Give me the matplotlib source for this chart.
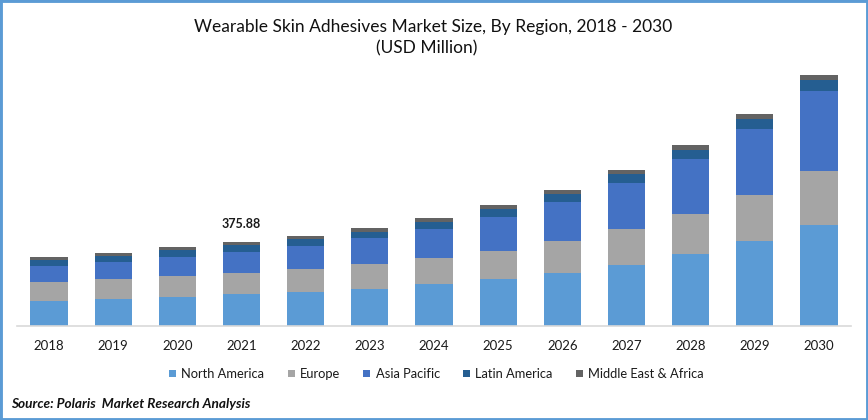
import matplotlib
matplotlib.use("Agg")
import matplotlib.pyplot as plt
from matplotlib.patches import Rectangle

plt.rcParams['font.family'] = ['Lato', 'DejaVu Sans']

years = [str(y) for y in range(2018, 2031)]
north_america = [112, 121, 130, 143, 152, 166, 188, 210, 237, 273, 322, 380, 452]
europe = [85, 90, 94, 94, 103, 112, 116, 125, 143, 161, 179, 206, 242]
asia_pacific = [72, 76, 85, 94, 103, 116, 130, 152, 175, 206, 246, 295, 358]
latin_america = [27, 27, 31, 31, 31, 27, 31, 36, 36, 40, 40, 45, 49]
mea = [13, 13, 13, 13.88, 13, 18, 18, 18, 18, 18, 22, 22, 22]

series = [
    ("North America", north_america, "#5B9BD5"),
    ("Europe", europe, "#A5A5A5"),
    ("Asia Pacific", asia_pacific, "#4472C4"),
    ("Latin America", latin_america, "#255E91"),
    ("Middle East & Africa", mea, "#636363"),
]

W, H = 868, 420
fig = plt.figure(figsize=(W / 100, H / 100), dpi=100, facecolor="white")
ax = fig.add_axes([17 / W, (H - 326) / H, (851 - 17) / W, 256 / H])

bottom = [0] * len(years)
for name, values, color in series:
    ax.bar(years, values, width=0.58, bottom=bottom, color=color, label=name, linewidth=0)
    bottom = [b + v for b, v in zip(bottom, values)]

ax.set_xlim(-0.5, len(years) - 0.5)
ax.set_ylim(0, 1145)
ax.set_yticks([])
for side in ["top", "left", "right"]:
    ax.spines[side].set_visible(False)
ax.spines["bottom"].set_color("#D9D9D9")
ax.spines["bottom"].set_linewidth(1.2)
ax.tick_params(axis="x", length=0, pad=10, labelsize=9.5, labelcolor="#1a1a1a")

ax.annotate("375.88", (3, bottom[3]), xytext=(0, 8.5), textcoords="offset points",
            ha="center", va="bottom", fontsize=9, fontweight="bold", color="#1a1a1a")

fig.text(433 / W, 1 - 27 / H, "Wearable Skin Adhesives Market Size, By Region, 2018 - 2030",
         ha="center", va="center", fontsize=12.5, color="#111111")
fig.text(427 / W, 1 - 48 / H, "(USD Million)", ha="center", va="center", fontsize=12.5, color="#111111")

handles, labels = ax.get_legend_handles_labels()
fig.legend(handles, labels, loc="center", bbox_to_anchor=(436.5 / W, 1 - 374 / H), ncol=5, frameon=False,
           fontsize=9.3, handlelength=0.55, handleheight=0.55, handletextpad=0.4,
           columnspacing=1.8, labelcolor="#1a1a1a")

fig.text(11 / W, 1 - 404 / H, "Source: Polaris  Market Research Analysis", ha="left", va="center",
         fontsize=9.8, fontweight="bold", fontstyle="italic", color="#111111")

# blue frame around the whole picture
fig.add_artist(Rectangle((0, 0), 1, 1, transform=fig.transFigure, fill=False,
                         edgecolor="#5B9BD5", linewidth=3.5))

fig.savefig("out.png", dpi=100)
